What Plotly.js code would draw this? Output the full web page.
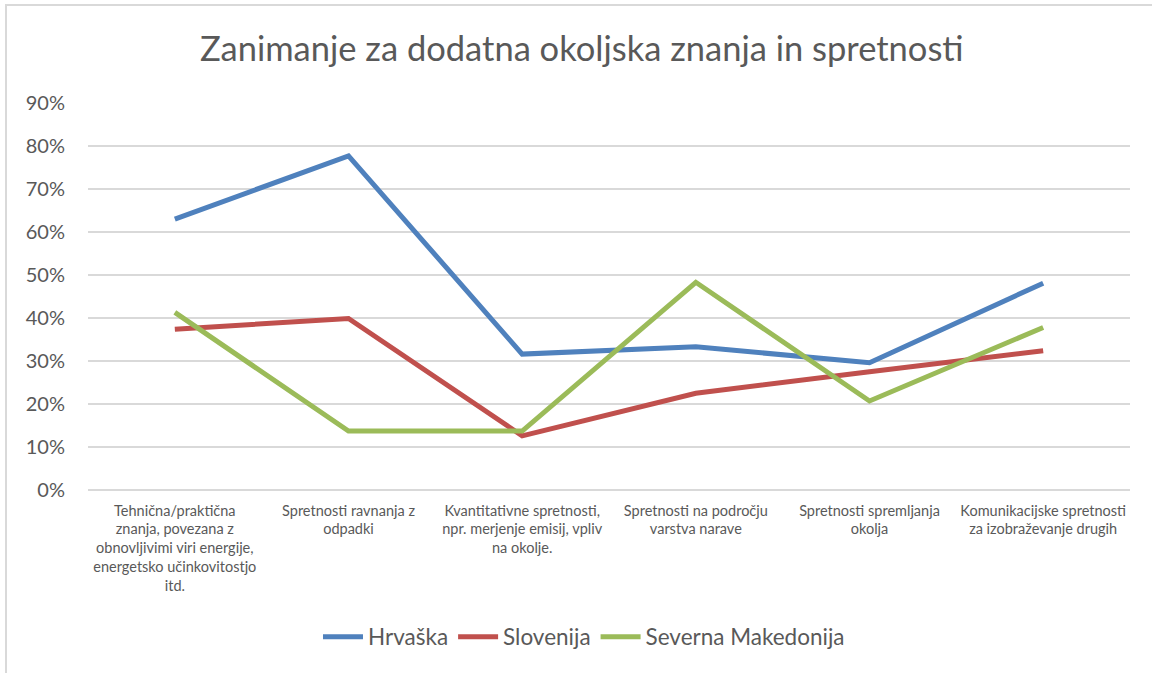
<!DOCTYPE html>
<html>
<head>
<meta charset="utf-8">
<script src="https://cdn.plot.ly/plotly-3.0.1.min.js"></script>
<style>
  html, body { margin: 0; padding: 0; background: #fff; overflow: hidden; }
  #chart { position: absolute; left: 0; top: 0; width: 1152px; height: 673px; }
  #frame { position: absolute; left: 5px; top: 4px; width: 1170px; height: 690px;
           border: 2px solid #d9d9d9; pointer-events: none; }
</style>
</head>
<body>
<div id="chart"></div>
<div id="frame"></div>
<script>
// Categories (x axis labels, line breaks as in the original)
const categories = [
    'Tehnična/praktična<br>znanja, povezana z<br>obnovljivimi viri energije,<br>energetsko učinkovitostjo<br>itd.',
    'Spretnosti ravnanja z<br>odpadki',
    'Kvantitativne spretnosti,<br>npr. merjenje emisij, vpliv<br>na okolje.',
    'Spretnosti na področju<br>varstva narave',
    'Spretnosti spremljanja<br>okolja',
    'Komunikacijske spretnosti<br>za izobraževanje drugih'
];

// Shares per country
const hrvaska = [0.63, 0.777, 0.316, 0.333, 0.296, 0.481];
const slovenija = [0.374, 0.399, 0.126, 0.225, 0.275, 0.324];
const makedonija = [0.413, 0.137, 0.137, 0.483, 0.207, 0.378];

const seriesNames = ['Hrvaška', 'Slovenija', 'Severna Makedonija'];
const seriesColors = ['#4f81bd', '#c0504d', '#9bbb59'];

const fontFamily = 'Lato, "Open Sans", sans-serif';

const traces = [hrvaska, slovenija, makedonija].map((vals, i) => ({
    x: categories,
    y: vals,
    type: 'scatter',
    mode: 'lines',
    name: seriesNames[i],
    line: { color: seriesColors[i], width: 5 },
    hoverinfo: 'skip'
}));

const layout = {
    width: 1152,
    height: 673,
    margin: { l: 88, r: 22, t: 103, b: 183 },
    paper_bgcolor: '#ffffff',
    plot_bgcolor: '#ffffff',
    font: { family: fontFamily, color: '#595959' },
    title: {
        text: 'Zanimanje za dodatna okoljska znanja in spretnosti',
        font: { family: fontFamily, size: 34.5, color: '#595959' },
        x: 0.505,
        xanchor: 'center',
        y: 0.928,
        yanchor: 'middle'
    },
    xaxis: {
        type: 'category',
        range: [-0.5, 5.5],
        showgrid: false,
        showline: false,
        zeroline: false,
        ticks: '',
        tickangle: 0,
        ticklabelstandoff: 10,
        tickfont: { family: fontFamily, size: 14.5, color: '#595959' }
    },
    yaxis: {
        range: [0, 0.9],
        dtick: 0.1,
        tickformat: '.0%',
        showgrid: true,
        gridcolor: '#d9d9d9',
        gridwidth: 1.5,
        zeroline: true,
        zerolinecolor: '#d9d9d9',
        zerolinewidth: 1.5,
        showline: false,
        ticks: '',
        ticklabelstandoff: 22,
        tickfont: { family: fontFamily, size: 20, color: '#595959' }
    },
    showlegend: true,
    legend: {
        orientation: 'h',
        x: 0.476,
        xanchor: 'center',
        y: -0.38,
        yanchor: 'middle',
        font: { family: fontFamily, size: 22.5, color: '#595959' },
        itemwidth: 40,
        traceorder: 'normal'
    }
};

Plotly.newPlot('chart', traces, layout, { displayModeBar: false, staticPlot: true });
</script>
</body>
</html>
